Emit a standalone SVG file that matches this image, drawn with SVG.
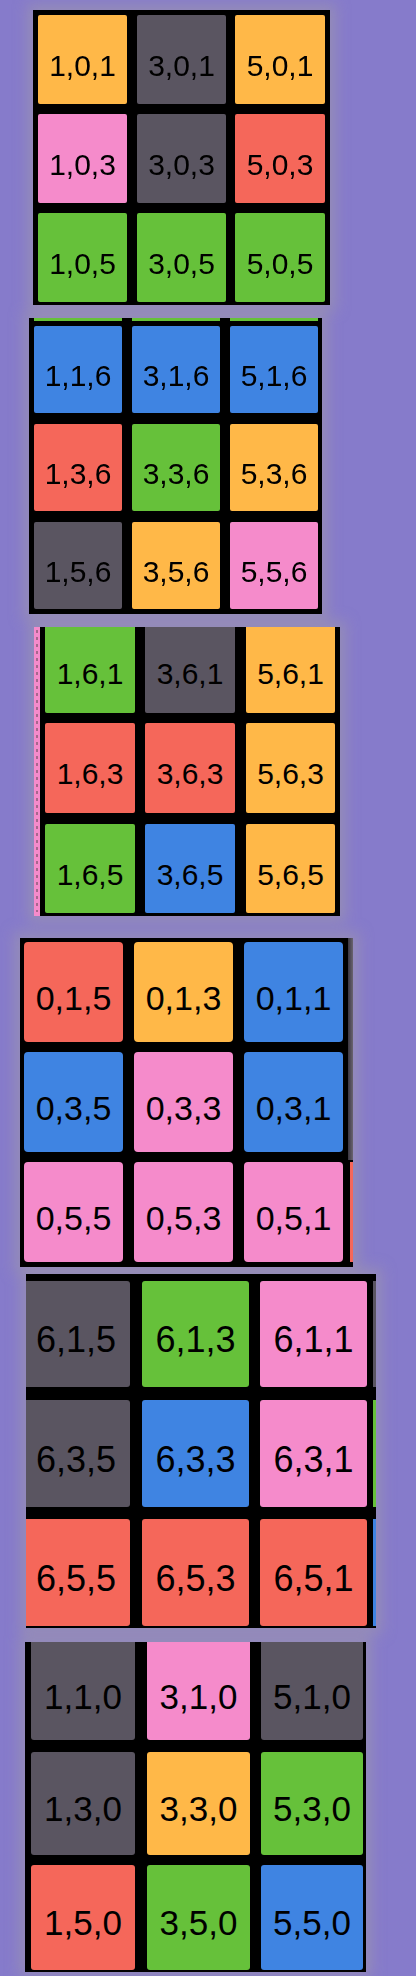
<svg xmlns="http://www.w3.org/2000/svg" width="416" height="1976" viewBox="0 0 416 1976">
<style>
.bg{fill:#867bcb}
.halo{fill:#9992b2;opacity:.75}
.face{fill:#000}
.o{fill:#ffb848}.g{fill:#5a5561}.p{fill:#f58bcb}.r{fill:#f5675a}.gr{fill:#66c13a}.b{fill:#3f84e2}
text{font-family:"Liberation Sans",Arial,sans-serif;fill:#000;text-anchor:middle}
.f30{font-size:30px}.f34{font-size:34px}.f36{font-size:36px}.f35{font-size:35px}
</style>
<defs>
<filter id="blur" x="-20%" y="-20%" width="140%" height="140%"><feGaussianBlur stdDeviation="7"/></filter>
<clipPath id="c3"><rect x="34" y="627" width="306" height="289"/></clipPath>
<clipPath id="c5"><rect x="26" y="1274" width="350" height="354"/></clipPath>
<clipPath id="c6"><rect x="25" y="1642" width="341" height="330"/></clipPath>
<linearGradient id="side" x1="0" x2="1" y1="0" y2="0"><stop offset="0" stop-color="#3a3640"/><stop offset="1" stop-color="#6a6470"/></linearGradient>
</defs>
<rect class="bg" x="0" y="0" width="416" height="1976"/>
<g id="halos" filter="url(#blur)">
<rect class="halo" x="27" y="4" width="309" height="307"/>
<rect class="halo" x="23" y="312" width="305" height="308"/>
<rect class="halo" x="28" y="621" width="318" height="301"/>
<rect class="halo" x="14" y="932" width="345" height="341"/>
<rect class="halo" x="20" y="1268" width="362" height="366"/>
<rect class="halo" x="19" y="1636" width="353" height="340"/>
</g>

<g id="face1">
<rect class="face" x="33" y="10" width="297" height="295"/>
<g id="c101"><rect class="o" x="38" y="15" width="89" height="89" rx="2"/><text class="f30" x="82.5" y="75.5">1,0,1</text></g>
<g id="c301"><rect class="g" x="137" y="15" width="89" height="89" rx="2"/><text class="f30" x="181.5" y="75.5">3,0,1</text></g>
<g id="c501"><rect class="o" x="235" y="15" width="90" height="89" rx="2"/><text class="f30" x="280" y="75.5">5,0,1</text></g>
<g id="c103"><rect class="p" x="38" y="114" width="89" height="89" rx="2"/><text class="f30" x="82.5" y="174.5">1,0,3</text></g>
<g id="c303"><rect class="g" x="137" y="114" width="89" height="89" rx="2"/><text class="f30" x="181.5" y="174.5">3,0,3</text></g>
<g id="c503"><rect class="r" x="235" y="114" width="90" height="89" rx="2"/><text class="f30" x="280" y="174.5">5,0,3</text></g>
<g id="c105"><rect class="gr" x="38" y="213" width="89" height="89" rx="2"/><text class="f30" x="82.5" y="273.5">1,0,5</text></g>
<g id="c305"><rect class="gr" x="137" y="213" width="89" height="89" rx="2"/><text class="f30" x="181.5" y="273.5">3,0,5</text></g>
<g id="c505"><rect class="gr" x="235" y="213" width="90" height="89" rx="2"/><text class="f30" x="280" y="273.5">5,0,5</text></g>
</g>

<g id="face2">
<rect class="face" x="29" y="318" width="293" height="296"/>
<rect class="gr" x="34" y="318" width="88" height="3"/>
<rect class="gr" x="132" y="318" width="88" height="3"/>
<rect class="gr" x="230" y="318" width="88" height="3"/>
<g id="c116"><rect class="b" x="34" y="326" width="88" height="87" rx="2"/><text class="f30" x="78" y="385.5">1,1,6</text></g>
<g id="c316"><rect class="b" x="132" y="326" width="88" height="87" rx="2"/><text class="f30" x="176" y="385.5">3,1,6</text></g>
<g id="c516"><rect class="b" x="230" y="326" width="88" height="87" rx="2"/><text class="f30" x="274" y="385.5">5,1,6</text></g>
<g id="c136"><rect class="r" x="34" y="424" width="88" height="87" rx="2"/><text class="f30" x="78" y="483.5">1,3,6</text></g>
<g id="c336"><rect class="gr" x="132" y="424" width="88" height="87" rx="2"/><text class="f30" x="176" y="483.5">3,3,6</text></g>
<g id="c536"><rect class="o" x="230" y="424" width="88" height="87" rx="2"/><text class="f30" x="274" y="483.5">5,3,6</text></g>
<g id="c156"><rect class="g" x="34" y="522" width="88" height="87" rx="2"/><text class="f30" x="78" y="581.5">1,5,6</text></g>
<g id="c356"><rect class="o" x="132" y="522" width="88" height="87" rx="2"/><text class="f30" x="176" y="581.5">3,5,6</text></g>
<g id="c556"><rect class="p" x="230" y="522" width="88" height="87" rx="2"/><text class="f30" x="274" y="581.5">5,5,6</text></g>
</g>

<g id="face3" clip-path="url(#c3)">
<rect class="face" x="34" y="627" width="306" height="289"/>
<rect class="p" x="34" y="627" width="6" height="289"/>
<line x1="37" y1="630" x2="37" y2="912" stroke="#333" stroke-width="0.8" stroke-dasharray="3 4"/>
<g id="c161"><rect class="gr" x="45" y="623" width="90" height="90" rx="2"/><text class="f30" x="90" y="684">1,6,1</text></g>
<g id="c361"><rect class="g" x="145" y="623" width="90" height="90" rx="2"/><text class="f30" x="190" y="684">3,6,1</text></g>
<g id="c561"><rect class="o" x="246" y="623" width="89" height="90" rx="2"/><text class="f30" x="290.5" y="684">5,6,1</text></g>
<g id="c163"><rect class="r" x="45" y="723" width="90" height="90" rx="2"/><text class="f30" x="90" y="784">1,6,3</text></g>
<g id="c363"><rect class="r" x="145" y="723" width="90" height="90" rx="2"/><text class="f30" x="190" y="784">3,6,3</text></g>
<g id="c563"><rect class="o" x="246" y="723" width="89" height="90" rx="2"/><text class="f30" x="290.5" y="784">5,6,3</text></g>
<g id="c165"><rect class="gr" x="45" y="824" width="90" height="89" rx="2"/><text class="f30" x="90" y="884.5">1,6,5</text></g>
<g id="c365"><rect class="b" x="145" y="824" width="90" height="89" rx="2"/><text class="f30" x="190" y="884.5">3,6,5</text></g>
<g id="c565"><rect class="o" x="246" y="824" width="89" height="89" rx="2"/><text class="f30" x="290.5" y="884.5">5,6,5</text></g>
</g>

<g id="face4">
<rect class="face" x="20" y="938" width="333" height="329"/>
<rect fill="url(#side)" x="348" y="938" width="5" height="222"/>
<rect class="r" x="350" y="1162" width="3" height="100"/>
<g id="c015"><rect class="r" x="24" y="942" width="99" height="100" rx="4"/><text class="f34" x="73.5" y="1010">0,1,5</text></g>
<g id="c013"><rect class="o" x="134" y="942" width="99" height="100" rx="4"/><text class="f34" x="183.5" y="1010">0,1,3</text></g>
<g id="c011"><rect class="b" x="244" y="942" width="99" height="100" rx="4"/><text class="f34" x="293.5" y="1010">0,1,1</text></g>
<g id="c035"><rect class="b" x="24" y="1052" width="99" height="100" rx="4"/><text class="f34" x="73.5" y="1120">0,3,5</text></g>
<g id="c033"><rect class="p" x="134" y="1052" width="99" height="100" rx="4"/><text class="f34" x="183.5" y="1120">0,3,3</text></g>
<g id="c031"><rect class="b" x="244" y="1052" width="99" height="100" rx="4"/><text class="f34" x="293.5" y="1120">0,3,1</text></g>
<g id="c055"><rect class="p" x="24" y="1162" width="99" height="100" rx="4"/><text class="f34" x="73.5" y="1230">0,5,5</text></g>
<g id="c053"><rect class="p" x="134" y="1162" width="99" height="100" rx="4"/><text class="f34" x="183.5" y="1230">0,5,3</text></g>
<g id="c051"><rect class="p" x="244" y="1162" width="99" height="100" rx="4"/><text class="f34" x="293.5" y="1230">0,5,1</text></g>
</g>

<g id="face5" clip-path="url(#c5)">
<rect class="face" x="26" y="1274" width="350" height="354"/>
<rect class="g" x="373" y="1281" width="3" height="106"/>
<rect class="gr" x="373" y="1400" width="3" height="107"/>
<rect class="b" x="373" y="1519" width="3" height="107"/>
<g id="c615"><rect class="g" x="22" y="1281" width="108" height="106" rx="3"/><text class="f36" x="76" y="1352">6,1,5</text></g>
<g id="c613"><rect class="gr" x="142" y="1281" width="107" height="106" rx="3"/><text class="f36" x="195.5" y="1352">6,1,3</text></g>
<g id="c611"><rect class="p" x="260" y="1281" width="107" height="106" rx="3"/><text class="f36" x="313.5" y="1352">6,1,1</text></g>
<g id="c635"><rect class="g" x="22" y="1400" width="108" height="107" rx="3"/><text class="f36" x="76" y="1471.5">6,3,5</text></g>
<g id="c633"><rect class="b" x="142" y="1400" width="107" height="107" rx="3"/><text class="f36" x="195.5" y="1471.5">6,3,3</text></g>
<g id="c631"><rect class="p" x="260" y="1400" width="107" height="107" rx="3"/><text class="f36" x="313.5" y="1471.5">6,3,1</text></g>
<g id="c655"><rect class="r" x="22" y="1519" width="108" height="107" rx="3"/><text class="f36" x="76" y="1590.5">6,5,5</text></g>
<g id="c653"><rect class="r" x="142" y="1519" width="107" height="107" rx="3"/><text class="f36" x="195.5" y="1590.5">6,5,3</text></g>
<g id="c651"><rect class="r" x="260" y="1519" width="107" height="107" rx="3"/><text class="f36" x="313.5" y="1590.5">6,5,1</text></g>
</g>

<g id="face6" clip-path="url(#c6)">
<rect class="face" x="25" y="1642" width="341" height="330"/>
<g id="c110"><rect class="g" x="31" y="1636" width="104" height="104" rx="3"/><text class="f35" x="83" y="1709">1,1,0</text></g>
<g id="c310"><rect class="p" x="147" y="1636" width="103" height="104" rx="3"/><text class="f35" x="198.5" y="1709">3,1,0</text></g>
<g id="c510"><rect class="g" x="261" y="1636" width="102" height="104" rx="3"/><text class="f35" x="312" y="1709">5,1,0</text></g>
<g id="c130"><rect class="g" x="31" y="1752" width="104" height="103" rx="3"/><text class="f35" x="83" y="1821">1,3,0</text></g>
<g id="c330"><rect class="o" x="147" y="1752" width="103" height="103" rx="3"/><text class="f35" x="198.5" y="1821">3,3,0</text></g>
<g id="c530"><rect class="gr" x="261" y="1752" width="102" height="103" rx="3"/><text class="f35" x="312" y="1821">5,3,0</text></g>
<g id="c150"><rect class="r" x="31" y="1865" width="104" height="105" rx="3"/><text class="f35" x="83" y="1935">1,5,0</text></g>
<g id="c350"><rect class="gr" x="147" y="1865" width="103" height="105" rx="3"/><text class="f35" x="198.5" y="1935">3,5,0</text></g>
<g id="c550"><rect class="b" x="261" y="1865" width="102" height="105" rx="3"/><text class="f35" x="312" y="1935">5,5,0</text></g>
</g>
<g id="connectors"/>
</svg>
